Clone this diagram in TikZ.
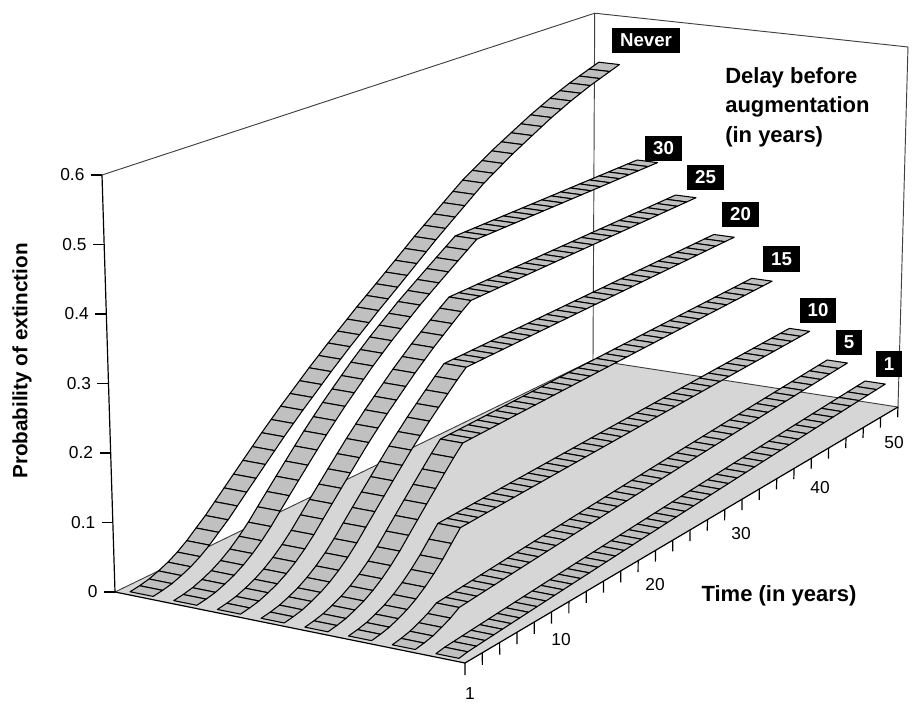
\documentclass[tikz,border=0pt]{standalone}
\usepackage{fontspec}
\setmainfont{Liberation Sans}
\usetikzlibrary{calc}
\definecolor{ribfill}{HTML}{C0C0C0}
\definecolor{floorfill}{HTML}{D6D6D6}
\definecolor{wallline}{HTML}{404040}
% base extinction curve, t = 1..50
\def\fdata{{0,0.002,0.005,0.010,0.016,0.024,0.034,0.046,0.060,0.076,0.092,0.108,0.124,0.140,0.156,0.171,0.186,0.200,0.214,0.228,0.241,0.254,0.266,0.278,0.290,0.301,0.312,0.323,0.334,0.345,0.356,0.366,0.376,0.386,0.396,0.406,0.416,0.426,0.436,0.445,0.454,0.463,0.472,0.480,0.488,0.495,0.502,0.508,0.514,0.520}}
% projection: name, u (time 0..1), w (series 0..1), v (value)
\newcommand\rkpt[4]{%
  \pgfmathsetmacro\rkA{(1-(#2))*(1-(#3))}%
  \pgfmathsetmacro\rkB{(1-(#2))*(#3)}%
  \pgfmathsetmacro\rkC{(#2)*(#3)}%
  \pgfmathsetmacro\rkD{(#2)*(1-(#3))}%
  \pgfmathsetmacro\rkX{\rkA*115+\rkB*465+\rkC*898+\rkD*593}%
  \pgfmathsetmacro\rkY{\rkA*592+\rkB*663+\rkC*407+\rkD*360}%
  \pgfmathsetmacro\rkH{(#4)*(\rkA*695+\rkB*717+\rkC*600+\rkD*578)}%
  \pgfmathsetmacro\rkL{(\rkX-527)/(13800-\rkY)}%
  \coordinate (#1) at ({\rkX+\rkL*\rkH},{\rkY-\rkH});%
}
\begin{document}
\begin{tikzpicture}[x=0.75pt,y=-0.75pt,
  ribbon/.style={fill=ribfill,draw=black,line width=0.8pt,line join=round},
  wall/.style={draw=wallline,line width=0.7pt},
  axisln/.style={draw=black,line width=0.9pt},
  ticklab/.style={font=\fontsize{13}{15}\selectfont,inner sep=0pt},
  serlab/.style={fill=black,text=white,font=\bfseries\fontsize{14}{16}\selectfont,inner xsep=6pt,inner ysep=0pt,minimum height=19pt},
  title/.style={font=\bfseries\fontsize{16.5}{22}\selectfont,inner sep=0pt}]
\fill[white] (0,0) rectangle (922,714);
\useasboundingbox (0,0) rectangle (922,714);
% corners
\rkpt{A}{0}{0}{0}
\rkpt{B}{0}{1}{0}
\rkpt{C}{1}{1}{0}
\rkpt{D}{1}{0}{0}
\rkpt{At}{0}{0}{0.6}
\rkpt{Dt}{1}{0}{0.6}
\rkpt{Ct}{1}{1}{0.6}
% walls
\draw[wall] (At) -- (Dt) -- (Ct) -- (C);
\draw[wall] (Dt) -- (D);
% floor
\fill[floorfill] (A) -- (B) -- (C) -- (D) -- cycle;
\draw[wall] (A) -- (D) -- (C);
\draw[axisln] (A) -- (B) -- (C);
% value axis
\draw[axisln] (A) -- (At);
\foreach \j/\lab in {0/0,1/0.1,2/0.2,3/0.3,4/0.4,5/0.5,6/0.6}{
  \pgfmathsetmacro\vv{\j/10}
  \rkpt{va-\j}{0}{0}{\vv}
  \draw[axisln] (va-\j) -- ++(-11,0) node[ticklab,anchor=east,xshift=-4.5pt] (vl-\j) {\lab};
}
% time axis ticks
\foreach \i in {0,...,25}{
  \pgfmathsetmacro\uu{\i*0.04}
  \rkpt{tt-\i}{\uu}{1}{0}
  \rkpt{tb-\i}{\uu}{1}{-0.017}
  \draw[axisln] (tt-\i) -- (tb-\i);
}
\foreach \lab/\x/\y in {1/470/694,10/561/640,20/655/585,30/741/534,40/820/488,50/894/443}
  \node[ticklab] (tl-\lab) at (\x,\y) {\lab};
% ribbons
\foreach \k/\Dp/\sl/\bm in {0/51/0/0.02,1/31/0.0002/0,2/26/0.0003/0,3/21/0.0003/0,4/16/0.0004/0,5/11/0.00045/0,6/6/0.00095/0,7/2/0.0008/0}{
  \pgfmathsetmacro\wc{(\k+0.5)/8}
  \foreach \t in {1,...,50}{
    \pgfmathsetmacro\uu{(\t-0.5)/50}
    \ifnum\t>\Dp\relax
      \pgfmathsetmacro\vv{\fdata[\Dp-1]+\sl*(\t-\Dp)}
    \else
      \pgfmathsetmacro\vv{\fdata[\t-1]}
    \fi
    \ifnum\t>7\relax\ifnum\t<37\relax
      \pgfmathsetmacro\vv{\vv-\bm*sin(180*(\t-8)/28)}
    \fi\fi
    \rkpt{l-\k-\t}{\uu}{\wc-0.033}{\vv}
    \rkpt{r-\k-\t}{\uu}{\wc+0.033}{\vv}
  }
  \foreach \t in {49,...,1}{
    \pgfmathtruncatemacro\tn{\t+1}
    \filldraw[ribbon] (l-\k-\t) -- (r-\k-\t) -- (r-\k-\tn) -- (l-\k-\tn) -- cycle;
  }
}
% series labels
\node[serlab] (s0) at (646,40.5) {Never};
\node[serlab] (s1) at (663.5,148.5) {30};
\node[serlab] (s2) at (705.5,177.5) {25};
\node[serlab] (s3) at (740.5,214.5) {20};
\node[serlab] (s4) at (781.5,259) {15};
\node[serlab] (s5) at (818,310.5) {10};
\node[serlab] (s6) at (849,342.5) {5};
\node[serlab] (s7) at (889,364) {1};
% titles
\node[title,align=left,anchor=west] (legtitle) at (725,107) {Delay before\\augmentation\\(in years)};
\node[title] (xtitle) at (779,596) {Time (in years)};
\node[title,font=\bfseries\fontsize{15.5}{18}\selectfont,rotate=90] (ytitle) at (22,361) {Probability of extinction};
\end{tikzpicture}
\end{document}
